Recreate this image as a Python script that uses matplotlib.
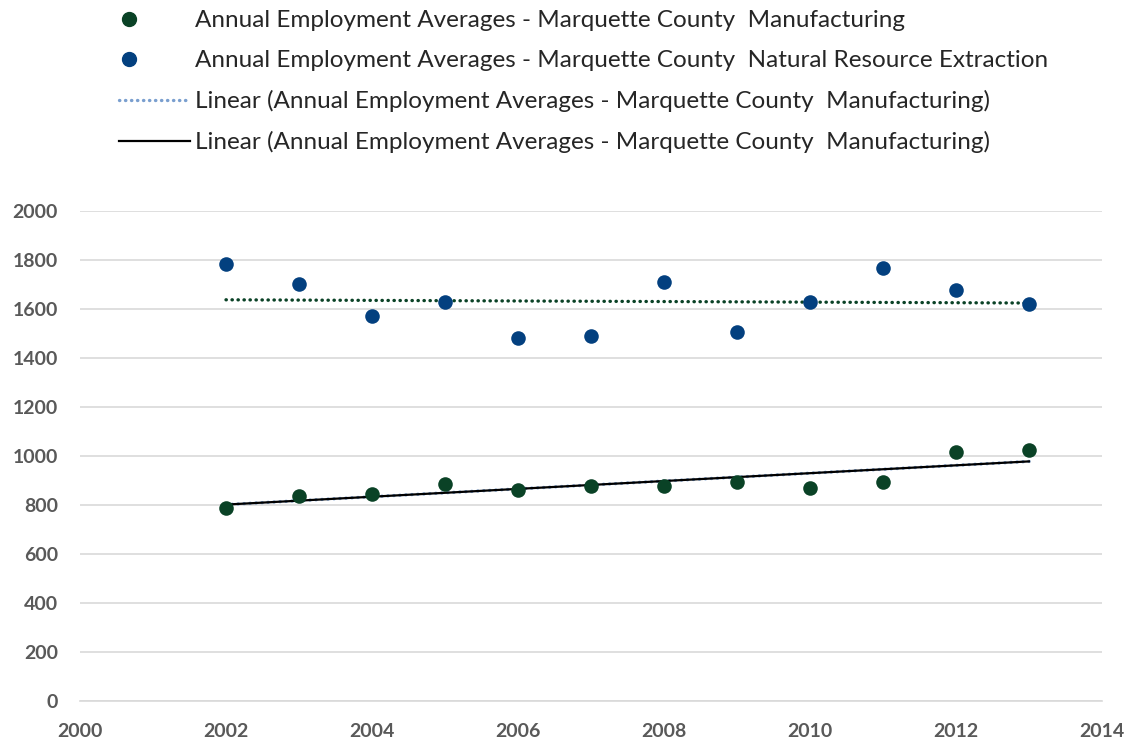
import numpy as np
import matplotlib
matplotlib.use("Agg")
import matplotlib.pyplot as plt
from matplotlib.lines import Line2D
from matplotlib.legend_handler import HandlerLine2D

plt.rcParams['font.family'] = ['Lato', 'DejaVu Sans']

years = [2002, 2003, 2004, 2005, 2006, 2007, 2008, 2009, 2010, 2011, 2012, 2013]
manufacturing = [788, 838, 846, 887, 861, 878, 878, 894, 871, 895, 1016, 1026]
natural_resource = [1784, 1703, 1571, 1627, 1483, 1490, 1711, 1507, 1629, 1769, 1679, 1619]

lbl_mfg = "Annual Employment Averages - Marquette County  Manufacturing"
lbl_nre = "Annual Employment Averages - Marquette County  Natural Resource Extraction"
lbl_lin = "Linear (Annual Employment Averages - Marquette County  Manufacturing)"

green = "#0a4226"
blue = "#03407f"
light_blue = "#7a9fcf"
text_gray = "#595959"
dots = (0, (0.1, 1.7))


class LeftMarker(HandlerLine2D):
    # put the legend marker near the left end of the handle, like Excel does
    def get_xdata(self, legend, xdescent, ydescent, width, height, fontsize):
        m = -xdescent + 0.14 * width
        return np.array([m - 1, m + 1]), np.array([m])


fig = plt.figure(figsize=(11.35, 7.46), dpi=100)
ax = fig.add_axes([80 / 1135, 45 / 746, 1022 / 1135, 490 / 746])

x = np.array(years, dtype=float)
# linear trend lines
p_mfg = np.polyfit(x, manufacturing, 1)
p_nre = np.polyfit(x, natural_resource, 1)
xt = np.array([years[0], years[-1]], dtype=float)

ax.plot(xt, np.polyval(p_nre, xt), color=green, lw=2.4, ls=dots,
        dash_capstyle='round', zorder=3)
ax.plot(xt, np.polyval(p_mfg, xt), color=light_blue, lw=2.4, ls=dots,
        dash_capstyle='round', zorder=3)
ax.plot(xt, np.polyval(p_mfg, xt), color="black", lw=1.6, zorder=4)

ax.scatter(years, manufacturing, s=110, color=green, zorder=5, linewidths=0)
ax.scatter(years, natural_resource, s=110, color=blue, zorder=5, linewidths=0)

ax.set_xlim(2000, 2014)
ax.set_ylim(0, 2000)
ax.set_xticks(range(2000, 2015, 2))
ax.set_yticks(range(0, 2001, 200))
ax.grid(axis='y', color="#d9d9d9", lw=1.2)
ax.set_axisbelow(True)
for s in ['top', 'right', 'left']:
    ax.spines[s].set_visible(False)
ax.spines['bottom'].set_color("#d9d9d9")
ax.spines['bottom'].set_linewidth(1.2)
ax.tick_params(length=0, labelsize=14, colors=text_gray)
ax.tick_params(axis='x', pad=16)
ax.tick_params(axis='y', pad=16)
for t in ax.get_xticklabels() + ax.get_yticklabels():
    t.set_fontweight('bold')

handles = [
    Line2D([], [], ls='none', marker='o', ms=10, color=green),
    Line2D([], [], ls='none', marker='o', ms=10, color=blue),
    Line2D([], [], color=light_blue, lw=2.4, ls=dots, dash_capstyle='round'),
    Line2D([], [], color="black", lw=1.6),
]
labels = [lbl_mfg, lbl_nre, lbl_lin, lbl_lin]
leg = fig.legend(handles, labels, loc='upper left', bbox_to_anchor=(109 / 1135, 0.9995),
                 frameon=False, fontsize=17.5, handlelength=2.95, handletextpad=0.2,
                 labelspacing=0.78, borderaxespad=0,
                 handler_map={handles[0]: LeftMarker(numpoints=1),
                              handles[1]: LeftMarker(numpoints=1)})
for t in leg.get_texts():
    t.set_color("#262626")

fig.savefig("out.png", dpi=100)
